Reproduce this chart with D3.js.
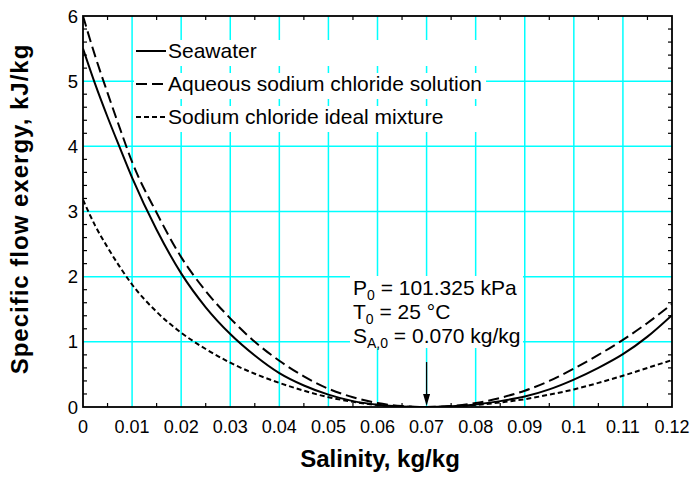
<!DOCTYPE html>
<html>
<head>
<meta charset="utf-8">
<script src="https://cdn.jsdelivr.net/npm/d3@7"></script>
<style>
  body { margin: 0; background: #fff; }
  text { font-family: Arial, 'Liberation Sans', sans-serif; fill: #000; }
</style>
</head>
<body>
<script>
// salinity points (kg/kg)
const salinity = [0, 0.0025, 0.005, 0.0075, 0.01, 0.015, 0.02, 0.025, 0.03, 0.035, 0.04, 0.045, 0.05,
    0.055, 0.06, 0.065, 0.07, 0.075, 0.08, 0.085, 0.09, 0.095, 0.1, 0.105, 0.11, 0.115, 0.12]

// specific flow exergy (kJ/kg)
const seawater = [5.50, 4.95, 4.45, 3.98, 3.52, 2.72, 2.05, 1.53, 1.12, 0.79, 0.52, 0.33, 0.19,
    0.09, 0.035, 0.008, 0, 0.01, 0.04, 0.09, 0.16, 0.27, 0.42, 0.60, 0.81, 1.08, 1.41]
const aqueous = [6.00, 5.38, 4.82, 4.28, 3.76, 2.98, 2.30, 1.78, 1.36, 1.00, 0.71, 0.47, 0.28,
    0.15, 0.06, 0.015, 0, 0.015, 0.06, 0.14, 0.25, 0.40, 0.59, 0.80, 1.03, 1.29, 1.58]
const ideal = [3.18, 2.78, 2.45, 2.15, 1.88, 1.46, 1.14, 0.89, 0.68, 0.51, 0.37, 0.25, 0.15,
    0.08, 0.03, 0.007, 0, 0.008, 0.03, 0.07, 0.12, 0.19, 0.27, 0.37, 0.48, 0.60, 0.72]

const seriesNames = ['Seawater', 'Aqueous sodium chloride solution', 'Sodium chloride ideal mixture']
const xTicks = [0, 0.01, 0.02, 0.03, 0.04, 0.05, 0.06, 0.07, 0.08, 0.09, 0.1, 0.11, 0.12]
const yTicks = [0, 1, 2, 3, 4, 5, 6]
const noteLines = [
    [['P', ''], ['0', 'sub'], [' = 101.325 kPa', '']],
    [['T', ''], ['0', 'sub'], [' = 25 °C', '']],
    [['S', ''], ['A,0', 'sub'], [' = 0.070 kg/kg', '']]
]
const refSalinity = 0.07

// size of the svg and plot box
const w = 692
const h = 477
const pLeft = 83
const pTop = 16
const pRight = 672
const pBottom = 407

const xScale = d3.scaleLinear().domain([0, 0.12]).range([pLeft, pRight])
const yScale = d3.scaleLinear().domain([0, 6]).range([pBottom, pTop])

const svg = d3.select('body')
    .append('svg')
    .attr('width', w)
    .attr('height', h)

// cyan grid
svg.append('g')
    .selectAll('line')
    .data(xTicks.slice(1, -1))
    .enter()
    .append('line')
    .attr('x1', d => xScale(d)).attr('x2', d => xScale(d))
    .attr('y1', pTop).attr('y2', pBottom)
    .attr('stroke', '#00ffff').attr('stroke-width', 1.5)

svg.append('g')
    .selectAll('line')
    .data(yTicks.slice(1, -1))
    .enter()
    .append('line')
    .attr('y1', d => yScale(d)).attr('y2', d => yScale(d))
    .attr('x1', pLeft).attr('x2', pRight)
    .attr('stroke', '#00ffff').attr('stroke-width', 1.5)

// minor ticks, pointing inwards
const xMinor = d3.range(0, 12).map(i => 0.005 + i * 0.01)
const yMinor = d3.range(0, 30).filter(i => i % 5 !== 0).map(i => i * 0.2)
const ticks = svg.append('g').attr('stroke', '#000').attr('stroke-width', 1.2)
xMinor.forEach(d => {
    ticks.append('line').attr('x1', xScale(d)).attr('x2', xScale(d)).attr('y1', pBottom).attr('y2', pBottom - 4)
    ticks.append('line').attr('x1', xScale(d)).attr('x2', xScale(d)).attr('y1', pTop).attr('y2', pTop + 4)
})
yMinor.forEach(d => {
    ticks.append('line').attr('y1', yScale(d)).attr('y2', yScale(d)).attr('x1', pLeft).attr('x2', pLeft + 4)
    ticks.append('line').attr('y1', yScale(d)).attr('y2', yScale(d)).attr('x1', pRight).attr('x2', pRight - 4)
})

// legend, each row on a white box
const dashes = [null, '11,5', '5,3']
const legend = svg.append('g')
const legendRows = seriesNames.map((name, i) => {
    const base = 58 + i * 33
    const row = legend.append('g')
    const box = row.append('rect').attr('fill', '#fff')
    row.append('line')
        .attr('x1', 136).attr('x2', 166)
        .attr('y1', base - 7).attr('y2', base - 7)
        .attr('stroke', '#000').attr('stroke-width', 2)
        .attr('stroke-dasharray', dashes[i])
    const t = row.append('text')
        .attr('x', 168).attr('y', base)
        .attr('font-size', 21)
        .text(name)
    return { box, t, base }
})
const legendW = d3.max(legendRows, r => r.t.node().getComputedTextLength())
legendRows.forEach(r => {
    r.box.attr('x', 134).attr('y', r.base - 18).attr('width', legendW + 38).attr('height', 26)
})

// annotation with white background
const note = svg.append('g')
const noteBox = note.append('rect').attr('fill', '#fff')
noteLines.forEach((parts, i) => {
    const t = note.append('text')
        .attr('x', 353).attr('y', 295 + i * 24)
        .attr('font-size', 21)
    parts.forEach((p, j) => {
        const ts = t.append('tspan').text(p[0])
        if (p[1] === 'sub') ts.attr('font-size', 14).attr('dy', 5)
        else if (j > 0) ts.attr('dy', -5)
    })
})
const nb = note.node().getBBox()
noteBox.attr('x', nb.x - 3).attr('y', 276).attr('width', 523 - nb.x + 3).attr('height', 72)

// the three curves
const line = d3.line()
    .x((d, i) => xScale(salinity[i]))
    .y(d => yScale(d))
    .curve(d3.curveMonotoneX)

svg.append('defs').append('clipPath').attr('id', 'clip')
    .append('rect').attr('x', pLeft).attr('y', pTop).attr('width', pRight - pLeft).attr('height', pBottom - pTop)

const curves = svg.append('g').attr('clip-path', 'url(#clip)')
;[seawater, aqueous, ideal].forEach((vals, i) => {
    curves.append('path')
        .datum(vals)
        .attr('d', line)
        .attr('fill', 'none')
        .attr('stroke', '#000')
        .attr('stroke-width', 2)
        .attr('stroke-dasharray', dashes[i])
})

// arrow to the dead state
const ax = xScale(refSalinity)
svg.append('line')
    .attr('x1', ax).attr('x2', ax)
    .attr('y1', yScale(0.69)).attr('y2', pBottom - 10)
    .attr('stroke', '#000').attr('stroke-width', 1.3)
svg.append('path')
    .attr('d', `M${ax - 3.5},${pBottom - 13}L${ax + 3.5},${pBottom - 13}L${ax},${pBottom - 1}Z`)
    .attr('fill', '#000')

// frame
svg.append('rect')
    .attr('x', pLeft).attr('y', pTop)
    .attr('width', pRight - pLeft).attr('height', pBottom - pTop)
    .attr('fill', 'none').attr('stroke', '#000').attr('stroke-width', 1.8)

// tick labels
svg.append('g')
    .selectAll('text')
    .data(xTicks)
    .enter()
    .append('text')
    .attr('x', d => xScale(d))
    .attr('y', 433)
    .attr('text-anchor', 'middle')
    .attr('font-size', 18)
    .text(d => d)

svg.append('g')
    .selectAll('text')
    .data(yTicks)
    .enter()
    .append('text')
    .attr('x', 78)
    .attr('y', d => yScale(d))
    .attr('dy', '0.36em')
    .attr('text-anchor', 'end')
    .attr('font-size', 18.5)
    .text(d => d)

// axis titles
svg.append('text')
    .attr('x', 380)
    .attr('y', 467)
    .attr('text-anchor', 'middle')
    .attr('font-size', 24)
    .attr('font-weight', 'bold')
    .text('Salinity, kg/kg')

svg.append('text')
    .attr('transform', 'translate(28,209) rotate(-90)')
    .attr('text-anchor', 'middle')
    .attr('font-size', 24)
    .attr('font-weight', 'bold')
    .attr('letter-spacing', 1)
    .text('Specific flow exergy, kJ/kg')
</script>
</body>
</html>
